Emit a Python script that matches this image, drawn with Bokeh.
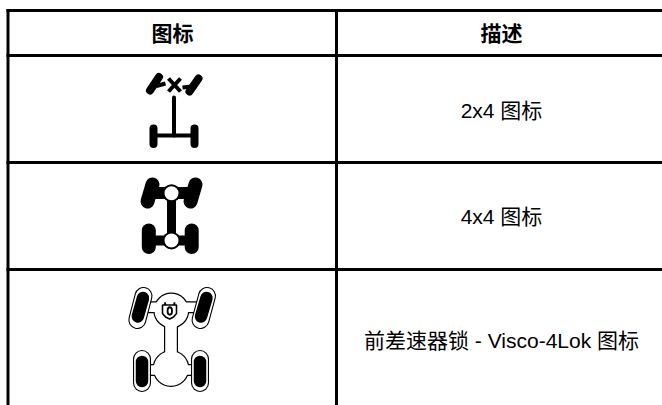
from bokeh.plotting import figure
from bokeh.models import Range1d
from bokeh.core.properties import value
from bokeh.embed import file_html
from bokeh.resources import INLINE

W, H = 662, 405
FONT = value("Liberation Sans, Noto Sans CJK SC")

headers = ["图标", "描述"]
descriptions = ["2x4 图标", "4x4 图标", "前差速器锁 - Visco-4Lok 图标"]
row_lines = [10, 55, 162, 269]
col_lines = [7.5, 336]
col_centers = [172, 501]
header_y = 33
desc_y = [110, 216, 340]

p = figure(width=W, height=H, x_range=Range1d(0, W), y_range=Range1d(H, 0),
           output_backend="svg", toolbar_location=None, min_border=0,
           outline_line_color=None)
p.xaxis.visible = False
p.yaxis.visible = False
p.grid.visible = False

# table rules
p.segment(x0=[6] * 4, x1=[W] * 4, y0=row_lines, y1=row_lines, line_color="black", line_width=3)
p.segment(x0=col_lines, x1=col_lines, y0=[8.5] * 2, y1=[H] * 2, line_color="black", line_width=3)


def caps(segs, width, color="black", cap="round"):
    for (x0, y0, x1, y1) in segs:
        p.line([x0, x1], [y0, y1], line_width=width, line_color=color, line_cap=cap)


def disc(cx, cy, r, color):
    p.circle(x=[cx], y=[cy], radius=r, fill_color=color, line_color=None)


# --- 2x4 icon
caps([(149.5, 90, 158.5, 76.5), (189, 91, 198, 78)], 8)
caps([(156, 85.5, 165, 83), (182, 87, 191, 86)], 4, cap="butt")
caps([(168, 78, 180, 91), (180, 78, 168, 91)], 4, cap="butt")
caps([(173.5, 97, 173.5, 135)], 4)
caps([(153, 135, 194, 135)], 4, cap="butt")
caps([(153, 128, 153, 143.5), (194, 128, 194, 143.5)], 8)

# --- 4x4 icon
caps([(152, 184, 147, 201), (195, 184, 190, 201), (148.3, 230, 148.3, 246.5), (191.2, 230, 191.2, 246.5)], 14)
caps([(150, 192.5, 192, 192.5)], 12, cap="butt")
caps([(150, 240, 192, 240)], 10, cap="butt")
caps([(171, 192, 171, 240)], 9, cap="butt")
disc(171, 192.7, 9, "black")
disc(171, 240, 9, "black")
disc(171, 192.7, 7, "white")
disc(171, 240, 7, "white")

# --- Visco-4Lok icon: body outlined, white inside
body_stubs = [(140, 306.7, 200, 306.7), (145, 369.5, 195, 369.5)]
caps(body_stubs, 12, cap="butt")
caps([(170.5, 310, 170.5, 368)], 14, cap="butt")
disc(170.8, 310, 18, "black")
disc(170.5, 368, 18.5, "black")
caps(body_stubs, 9.6, "white", cap="butt")
caps([(170.5, 310, 170.5, 368)], 11.6, "white", cap="butt")
disc(170.8, 310, 16.8, "white")
disc(170.5, 368, 17.3, "white")
# wheels: ring, gap, core
wheel_segs = [(143, 295.5, 136.8, 319.5), (206.5, 295.5, 200, 319.5),
              (141.5, 358.5, 141.5, 382.5), (199.5, 358.5, 199.5, 382.5)]
core_segs = [(142.5, 297.5, 137.3, 316), (206, 297.5, 200.5, 316),
             (141.5, 361.5, 141.5, 380.5), (199.5, 361.5, 199.5, 380.5)]
caps(wheel_segs, 18)
caps(wheel_segs, 15.8, "white")
caps(core_segs, 12.5)
# padlock
p.arc(x=[169.3], y=[302], radius=4.7, start_angle=0, end_angle=3.1416, direction="clock",
      line_color="black", line_width=1.6)
caps([(164.6, 302, 164.6, 305), (174, 302, 174, 305)], 1.6, cap="butt")
p.patch([162, 176, 176, 173, 169.2, 165, 162], [304.5, 304.5, 313, 316.5, 318.5, 316.5, 313],
        fill_color="white", line_color="black", line_width=1.6)
p.ellipse(x=[169.3], y=[310.5], width=4.5, height=7.5, fill_color="white", line_color="black", line_width=1.8)

# texts
p.text(x=col_centers, y=[header_y] * 2, text=headers, text_align="center", text_baseline="middle",
       text_font=FONT, text_font_size="21px", text_font_style="bold", text_color="black")
p.text(x=[col_centers[1]] * 3, y=desc_y, text=descriptions, text_align="center", text_baseline="middle",
       text_font=FONT, text_font_size="21px", text_color="black")

open("out.html", "w").write(file_html(p, INLINE))
